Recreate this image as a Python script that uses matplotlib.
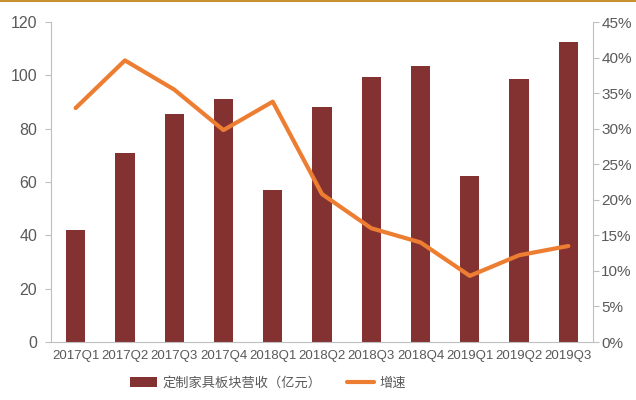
import matplotlib
matplotlib.use("Agg")
import matplotlib.pyplot as plt
from matplotlib.lines import Line2D
from matplotlib.ticker import FuncFormatter, MultipleLocator

quarters = ["2017Q1", "2017Q2", "2017Q3", "2017Q4", "2018Q1", "2018Q2",
            "2018Q3", "2018Q4", "2019Q1", "2019Q2", "2019Q3"]
revenue = [42.0, 71.0, 85.5, 91.0, 57.0, 88.0, 99.4, 103.5, 62.2, 98.6, 112.5]
growth = [32.9, 39.6, 35.5, 29.8, 33.8, 20.8, 16.0, 14.0, 9.3, 12.2, 13.5]

bar_color = "#843132"
line_color = "#ed7d31"
text_color = "#595959"
axis_color = "#bfbfbf"

plt.rcParams["font.family"] = ["Liberation Sans", "Noto Sans CJK SC", "DejaVu Sans"]

fig = plt.figure(figsize=(6.36, 4.0), dpi=100)
ax = fig.add_axes([51 / 636, 1 - 342 / 400, (593 - 51) / 636, (342 - 22) / 400])
ax2 = ax.twinx()

x = list(range(len(quarters)))
bars = ax.bar(x, revenue, width=0.39, color=bar_color, zorder=2,
              label="定制家具板块营收（亿元）")
line, = ax2.plot(x, growth, color=line_color, linewidth=3.0, zorder=3,
                 solid_capstyle="round", label="增速")

ax.set_xlim(-0.5, len(quarters) - 0.5)
ax.set_ylim(0, 120)
ax.yaxis.set_major_locator(MultipleLocator(20))
ax2.set_ylim(0, 45)
ax2.yaxis.set_major_locator(MultipleLocator(5))
ax2.yaxis.set_major_formatter(FuncFormatter(lambda v, p: f"{v:.0f}%"))

ax.set_xticks(x)
ax.set_xticklabels(quarters)

for a in (ax, ax2):
    for s in a.spines.values():
        s.set_visible(False)
ax.spines["left"].set_visible(True)
ax.spines["left"].set_color(axis_color)
ax.spines["bottom"].set_visible(True)
ax.spines["bottom"].set_color(axis_color)
ax2.spines["right"].set_visible(True)
ax2.spines["right"].set_color(axis_color)

ax.tick_params(axis="y", colors=axis_color, labelcolor=text_color,
               labelsize=11.5, length=4, pad=6)
ax.tick_params(axis="x", length=0, labelcolor=text_color, labelsize=9.5, pad=6)
ax2.tick_params(axis="y", colors=axis_color, labelcolor=text_color,
                labelsize=11, length=4, pad=2)

ax.set_zorder(ax2.get_zorder() - 1)
ax.patch.set_visible(True)
ax2.patch.set_visible(False)

leg = fig.legend(handles=[bars, line], loc="center",
                 bbox_to_anchor=(268 / 636, 1 - 383 / 400),
                 ncol=2, frameon=False, labelcolor=text_color,
                 handlelength=2.0, handleheight=0.7, handletextpad=0.4,
                 columnspacing=2.0,
                 prop={"family": ["Noto Sans CJK SC", "DejaVu Sans"], "size": 9.5})

# gold rule along the top edge
fig.add_artist(Line2D([0, 1], [0.998, 0.998], transform=fig.transFigure,
                      color="#c8912f", linewidth=1.5))

fig.savefig("out.png", dpi=100)
